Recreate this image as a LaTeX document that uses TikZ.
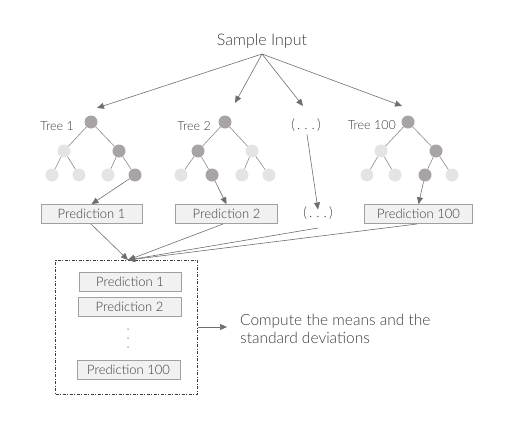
\documentclass[tikz,border=0pt]{standalone}
\usepackage{fontspec}
\setmainfont{Lato}[UprightFont=* Light]
\usetikzlibrary{arrows.meta}
\definecolor{txt}{HTML}{3C3C3C}
\definecolor{dk}{HTML}{A8A4A4}
\definecolor{lt}{HTML}{E4E4E4}
\definecolor{ln}{HTML}{8A8A8A}
\definecolor{ar}{HTML}{6E6E6E}
\definecolor{bxf}{HTML}{F1F1F1}
\definecolor{bxd}{HTML}{A0A0A0}
\tikzset{
  dnode/.style={circle,fill=dk,inner sep=0pt,minimum size=13pt},
  lnode/.style={circle,fill=lt,inner sep=0pt,minimum size=13pt},
  edge/.style={draw=ln,line width=0.6pt},
  arr/.style={draw=ar,line width=0.6pt,-{Triangle[length=7pt,width=6pt]}},
  pbox/.style={draw=bxd,fill=bxf,line width=0.6pt,minimum height=19pt,inner sep=0pt,text=txt,font=\fontsize{13}{15}\selectfont},
  lbl/.style={text=txt,font=\fontsize{12.5}{15}\selectfont,inner sep=0pt},
  dotsl/.style={text=txt,font=\fontsize{14}{16}\selectfont,inner sep=0pt},
}
\begin{document}
\begin{tikzpicture}[x=1pt,y=-1pt]
\useasboundingbox (0,0) rectangle (518,420);
\node[lbl,font=\fontsize{16}{18}\selectfont] (sample) at (262,41) {Sample Input};
\coordinate (src) at (262,54);
% Tree 1
\node[lbl] (t1lbl) at (57,126) {Tree 1};
\node[dnode] (a0) at (91,122) {};
\node[lnode] (a1) at (64,151) {};
\node[dnode] (a2) at (119,151) {};
\node[lnode] (a3) at (52,175) {};
\node[lnode] (a4) at (79,175) {};
\node[lnode] (a5) at (108,175) {};
\node[dnode] (a6) at (135,175) {};
% Tree 2
\node[lbl] (t2lbl) at (194,126) {Tree 2};
\node[dnode] (b0) at (225,122) {};
\node[dnode] (b1) at (198,151) {};
\node[lnode] (b2) at (252,151) {};
\node[lnode] (b3) at (181,175) {};
\node[dnode] (b4) at (212,175) {};
\node[lnode] (b5) at (242,175) {};
\node[lnode] (b6) at (269,175) {};
% dots
\node[dotsl] (dots1) at (306,125) {(\,.\;.\;.\,)};
\node[dotsl] (dots2) at (318,213) {(\,.\;.\;.\,)};
% Tree 100
\node[lbl,anchor=east] (t3lbl) at (396,125) {Tree 100};
\node[dnode] (c0) at (408,122) {};
\node[lnode] (c1) at (381,151) {};
\node[dnode] (c2) at (436,151) {};
\node[lnode] (c3) at (367,175) {};
\node[lnode] (c4) at (395,175) {};
\node[dnode] (c5) at (425,175) {};
\node[lnode] (c6) at (452,175) {};
% tree edges
\foreach \t in {a,b,c}{
  \draw[edge] (\t0) -- (\t1);
  \draw[edge] (\t0) -- (\t2);
  \draw[edge] (\t1) -- (\t3);
  \draw[edge] (\t1) -- (\t4);
  \draw[edge] (\t2) -- (\t5);
  \draw[edge] (\t2) -- (\t6);
}
% predictions
\node[pbox,minimum width=101pt] (p1) at (91.5,214) {Prediction 1};
\node[pbox,minimum width=102pt] (p2) at (226.5,214) {Prediction 2};
\node[pbox,minimum width=108pt] (p3) at (418.5,214) {Prediction 100};
% arrows from sample input
\coordinate (e1) at (97,108);
\coordinate (e2) at (235,103);
\coordinate (e3) at (303,106);
\coordinate (e4) at (402,106);
\draw[arr] (src) -- (e1);
\draw[arr] (src) -- (e2);
\draw[arr] (src) -- (e3);
\draw[arr] (src) -- (e4);
% leaf to prediction
\draw[arr] (a6) -- (p1.north);
\draw[arr] (b4) -- (p2.north);
\draw[arr] (c5) -- (p3.north);
\draw[arr] (dots1.south) ++(1,3) -- ([yshift=-3pt]dots2.north);
% aggregate box
\node[draw=txt,line width=0.5pt,dash pattern=on 3pt off 1.5pt on 1pt off 1.5pt,minimum width=142pt,minimum height=134pt,inner sep=0pt] (agg) at (126.5,327) {};
\coordinate (m) at (128,260);
\coordinate (d1s) at (91,224);
\coordinate (d2s) at (223,224);
\coordinate (d3s) at (318,228);
\coordinate (d4s) at (417,224);
\draw[arr] (d1s) -- (m);
\draw[arr] (d2s) -- (m);
\draw[arr] (d3s) -- (m);
\draw[arr] (d4s) -- (m);
\node[pbox,minimum width=102pt] (q1) at (130,281.5) {Prediction 1};
\node[pbox,minimum width=103pt] (q2) at (129.5,307) {Prediction 2};
\node[circle,fill=txt!70,inner sep=0pt,minimum size=1.5pt] (v1) at (128,329) {};
\node[circle,fill=txt!70,inner sep=0pt,minimum size=1.5pt] (v2) at (128,338) {};
\node[circle,fill=txt!70,inner sep=0pt,minimum size=1.5pt] (v3) at (128,347) {};
\node[pbox,minimum width=103pt] (q3) at (128.5,370) {Prediction 100};
% compute
\coordinate (ct) at (227,327);
\draw[arr] (agg.east |- ct) -- (ct);
\node[lbl,anchor=west,align=left,font=\fontsize{15.5}{18}\selectfont] (comp) at (240,329) {Compute the means and the\\standard deviations};
\end{tikzpicture}
\end{document}
